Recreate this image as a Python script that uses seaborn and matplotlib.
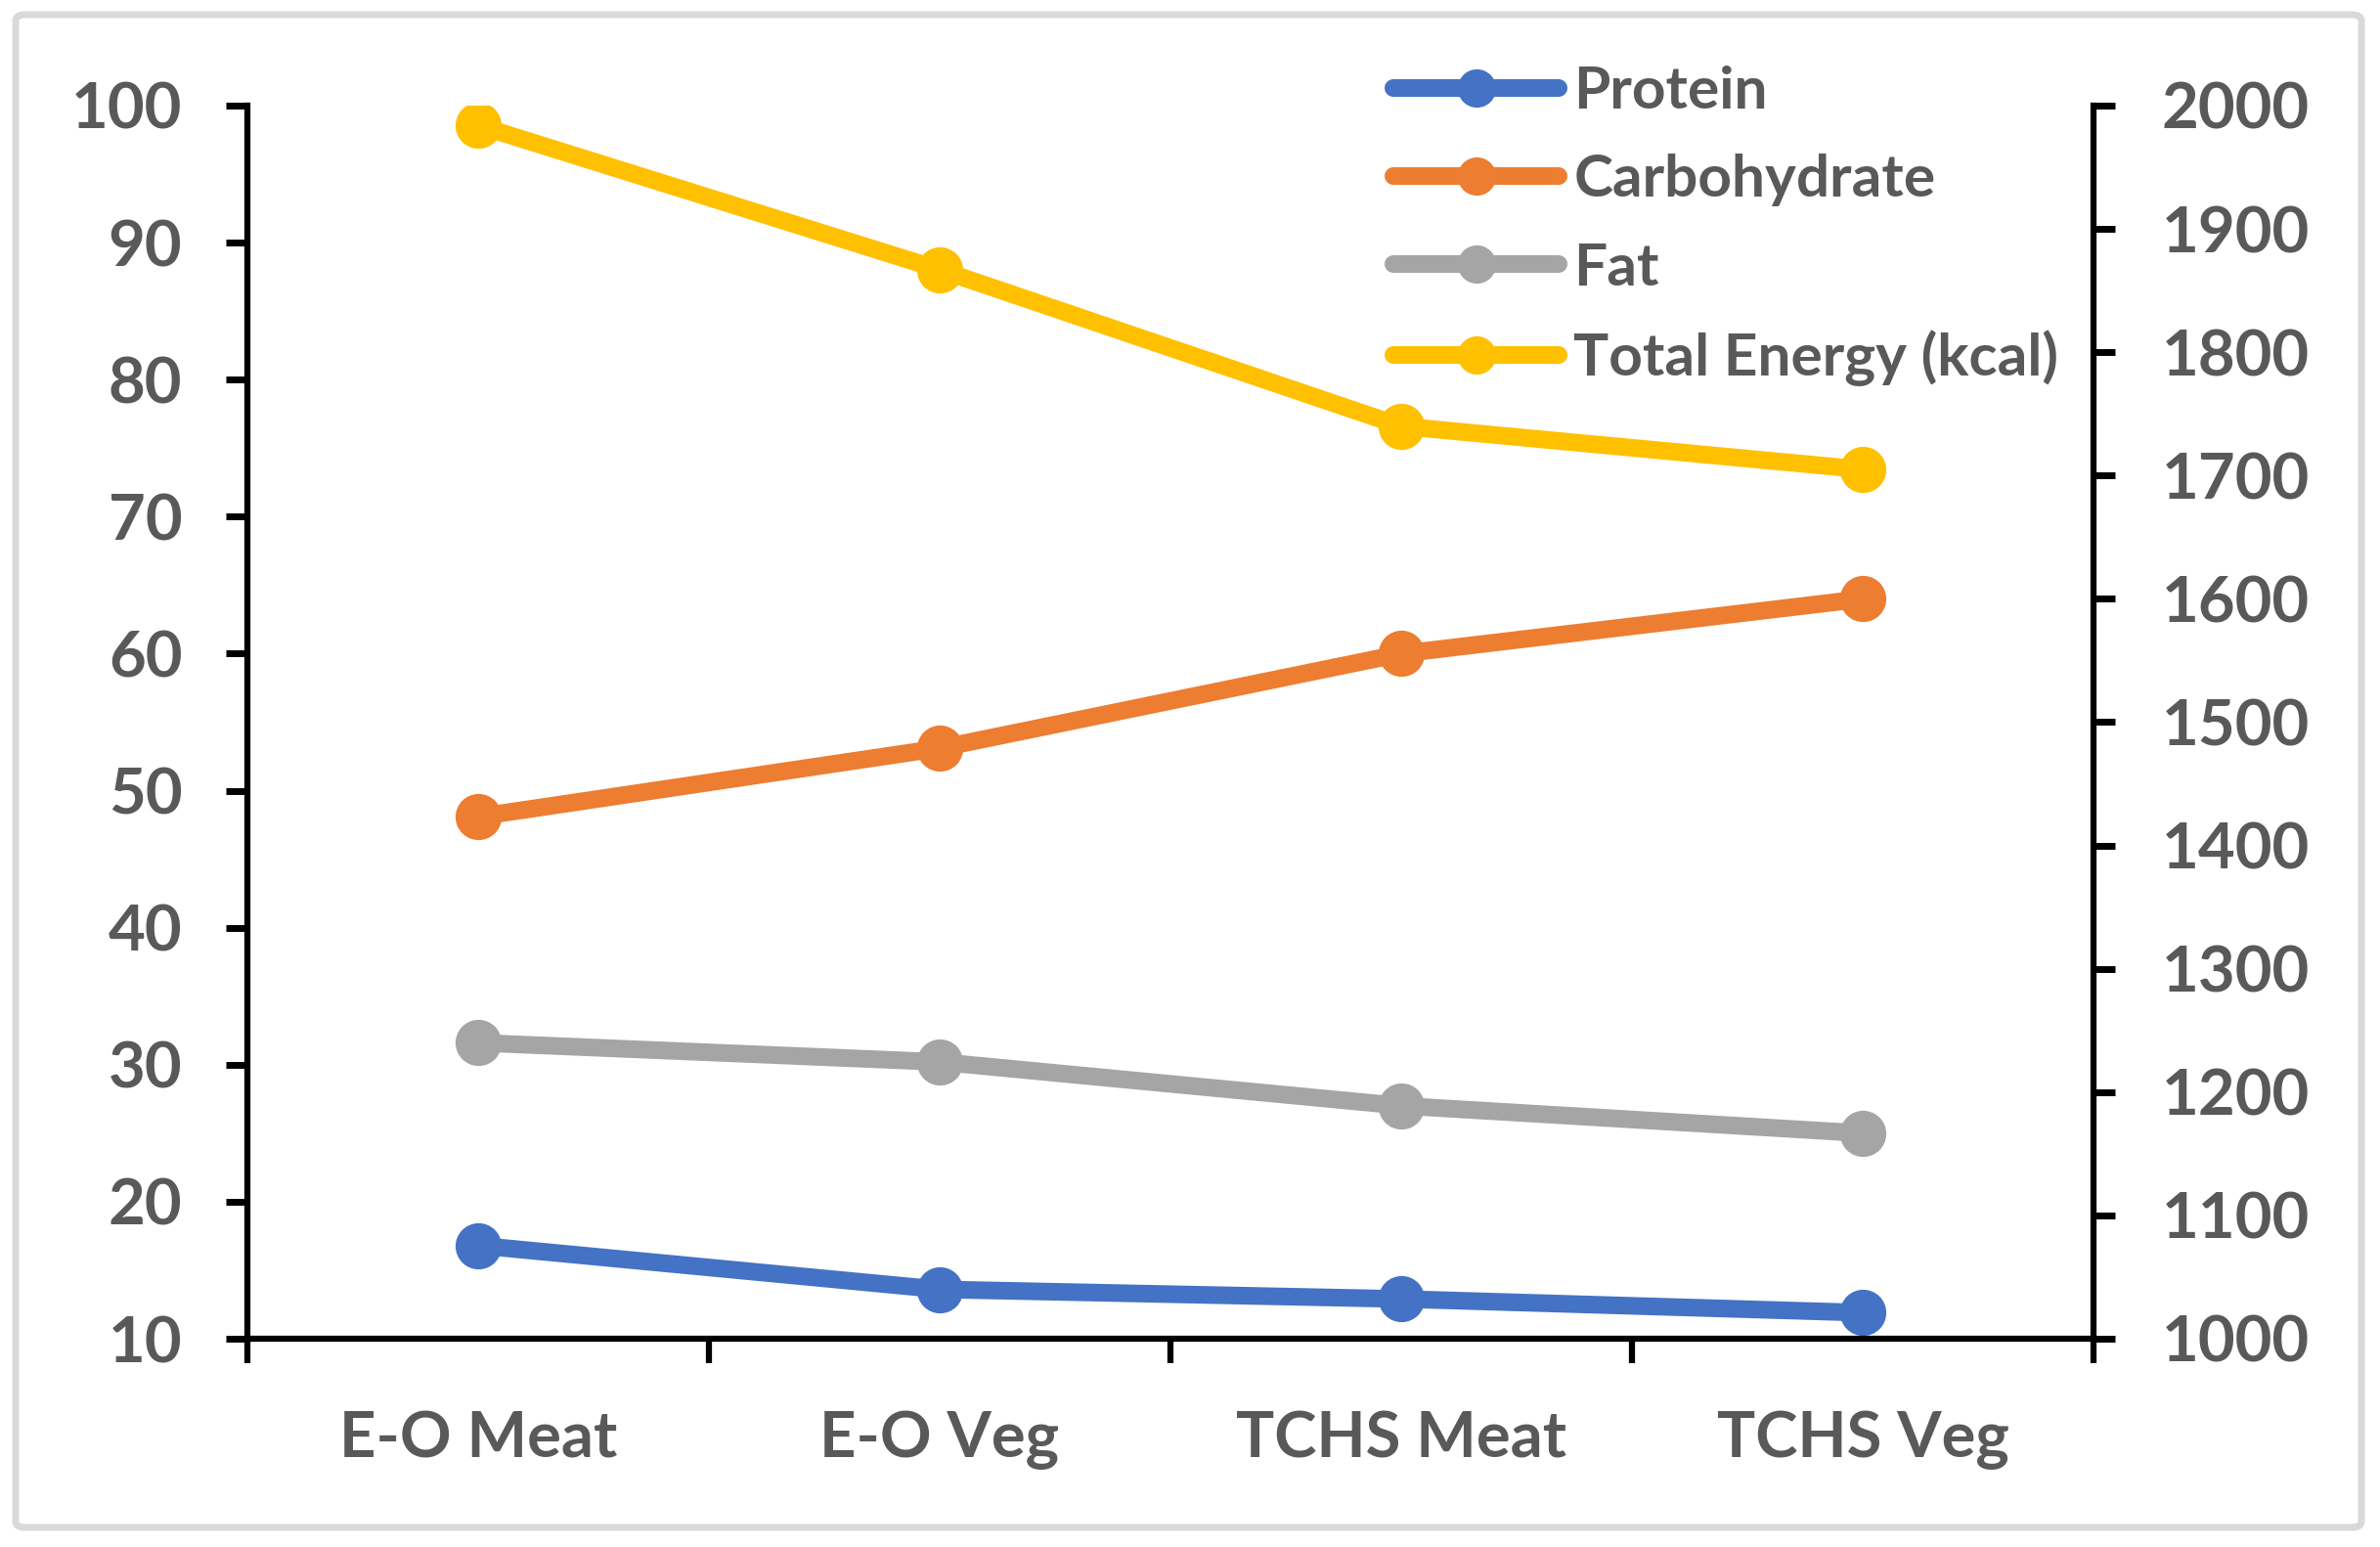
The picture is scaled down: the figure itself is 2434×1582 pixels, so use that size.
import matplotlib
matplotlib.use("Agg")
import matplotlib.pyplot as plt
from matplotlib.patches import FancyBboxPatch
from matplotlib.ticker import FixedLocator
import numpy as np
import pandas as pd
import seaborn as sns

sns.set_theme(style="white")
plt.rcParams['font.family'] = ['Lato', 'DejaVu Sans']
plt.rcParams['font.weight'] = 'bold'

# values
categories = ["E-O Meat", "E-O Veg", "TCHS Meat", "TCHS Veg"]
protein = [16.8, 13.6, 12.9, 11.9]
carbohydrate = [48.1, 53.1, 60.0, 64.0]
fat = [31.6, 30.2, 27.0, 25.0]
energy = [1984, 1867, 1740, 1705]

colors = {"Protein": "#4472C4", "Carbohydrate": "#ED7D31", "Fat": "#A5A5A5",
          "Total Energy (kcal)": "#FFC000"}
textCol = "#595959"

pos = np.arange(len(categories))
left = pd.DataFrame({"pos": np.tile(pos, 3),
                     "value": protein + carbohydrate + fat,
                     "nutrient": ["Protein"] * 4 + ["Carbohydrate"] * 4 + ["Fat"] * 4})
right = pd.DataFrame({"pos": pos, "value": energy})

W, H = 2434, 1582
fig = plt.figure(figsize=(W / 100, H / 100), dpi=100)
ax = fig.add_axes([253 / W, 1 - 1369 / H, (2141 - 253) / W, (1369 - 108) / H])

lineKw = dict(marker="o", markersize=34, linewidth=13, markeredgewidth=0, sort=False)
sns.lineplot(data=left, x="pos", y="value", hue="nutrient",
             palette=colors, ax=ax, legend=False, **lineKw)
ax2 = ax.twinx()
sns.lineplot(data=right, x="pos", y="value", color=colors["Total Energy (kcal)"],
             ax=ax2, legend=False, **lineKw)

ax.set_xlim(-0.5, 3.5)
ax.set_ylim(10, 100)
ax.set_yticks(range(10, 101, 10))
ax2.set_ylim(1000, 2000)
ax2.set_yticks(range(1000, 2001, 100))
ax.set_xlabel("")
ax.set_ylabel("")
ax2.set_ylabel("")

ax.set_xticks(pos)
ax.set_xticklabels(categories)
ax.xaxis.set_minor_locator(FixedLocator(np.arange(-0.5, 3.6, 1.0)))

for s in ["top", "right"]:
    ax.spines[s].set_visible(False)
for s in ["top", "left", "bottom"]:
    ax2.spines[s].set_visible(False)
for s in ["left", "bottom"]:
    ax.spines[s].set_color("black")
    ax.spines[s].set_linewidth(4.5)
ax2.spines["right"].set_color("black")
ax2.spines["right"].set_linewidth(4.5)

ax.tick_params(axis="y", left=True, direction="out", length=16, width=5, pad=32,
               labelsize=47, labelcolor=textCol, color="black")
ax2.tick_params(axis="y", right=True, direction="out", length=16, width=5, pad=34,
                labelsize=47, labelcolor=textCol, color="black")
ax.tick_params(axis="x", which="major", bottom=True, length=0, pad=53,
               labelsize=47, labelcolor=textCol)
ax.tick_params(axis="x", which="minor", bottom=True, direction="out", length=18,
               width=4.5, color="black")

handles = list(ax.lines) + list(ax2.lines)
labels = ["Protein", "Carbohydrate", "Fat", "Total Energy (kcal)"]
fig.legend(handles, labels, loc="upper left", bbox_to_anchor=(1425 / W, 1 - 67 / H),
           frameon=False, fontsize=43.5, handlelength=2.8, handletextpad=0.25,
           labelspacing=0.6, markerscale=0.83, borderpad=0, borderaxespad=0,
           labelcolor=textCol)

fig.patches.append(FancyBboxPatch((16 / W, 1 - 1562 / H), (2415 - 16) / W, (1562 - 15) / H,
                                  boxstyle="round,pad=0,rounding_size=0.004",
                                  transform=fig.transFigure, fill=False,
                                  edgecolor="#D9D9D9", linewidth=5))

fig.savefig("out.png", dpi=100)
